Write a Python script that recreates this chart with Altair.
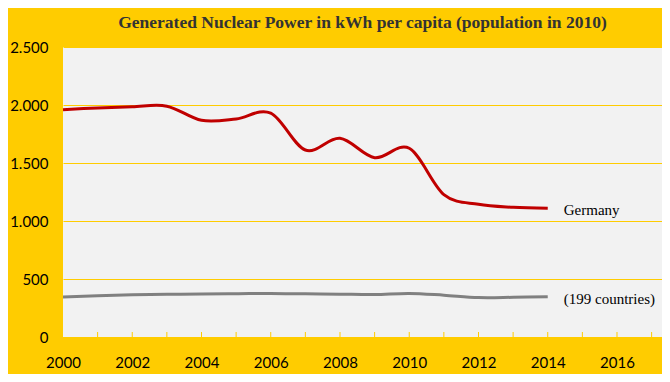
import altair as alt
import pandas as pd

years = list(range(2000, 2015))
germany = [1960, 1975, 1985, 1990, 1868, 1880, 1930, 1612, 1713, 1546, 1627, 1228, 1144, 1118, 1109]
world = [345, 356, 364, 368, 371, 373, 376, 372, 369, 366, 376, 360, 340, 342, 347]
series_labels = ["Germany", "(199 countries)"]
x_tick_labels = [2000, 2002, 2004, 2006, 2008, 2010, 2012, 2014, 2016]
y_tick_labels = [0, 500, 1000, 1500, 2000, 2500]
minor_ticks = list(range(2001, 2018))
title = "Generated Nuclear Power in kWh  per capita (population in 2010)"

YELLOW = "#FFCC00"
W, H = 599, 290

df = pd.DataFrame({
    "year": years * 2,
    "value": germany + world,
    "series": [series_labels[0]] * len(years) + [series_labels[1]] * len(years),
})
lab = pd.DataFrame({
    "year": [years[-1], years[-1]],
    "value": [germany[-1], world[-1]],
    "series": series_labels,
})
ticks = pd.DataFrame({"year": minor_ticks})

xscale = alt.Scale(domain=[2000, 2017.3], nice=False, zero=False)
yscale = alt.Scale(domain=[0, 2500], nice=False)

xaxis = alt.Axis(values=x_tick_labels, format="d", title=None, grid=False, ticks=False,
                 domain=False, labelFont="Lato", labelFontSize=15, labelColor="#000000",
                 labelPadding=18, labelFlush=False)
yaxis = alt.Axis(values=y_tick_labels, title=None, grid=True, gridColor=YELLOW, gridWidth=1,
                 ticks=False, domain=False, labelFont="Lato", labelFontSize=15,
                 labelColor="#000000", labelPadding=15,
                 labelExpr="replace(format(datum.value, ','), ',', '.')")

lines = alt.Chart(df).mark_line(interpolate="cardinal", strokeWidth=3).encode(
    x=alt.X("year:Q", scale=xscale, axis=xaxis),
    y=alt.Y("value:Q", scale=yscale, axis=yaxis),
    color=alt.Color("series:N", scale=alt.Scale(domain=series_labels, range=["#C00000", "#808080"]), legend=None),
)

tick_rules = alt.Chart(ticks).mark_rule(color=YELLOW, strokeWidth=1).encode(
    x=alt.X("year:Q", scale=xscale),
    y=alt.value(H - 5),
    y2=alt.value(H),
)

labels = alt.Chart(lab).mark_text(align="left", baseline="middle", dx=16, dy=2,
                                  font="Liberation Serif", fontSize=15, color="#000000").encode(
    x=alt.X("year:Q", scale=xscale),
    y=alt.Y("value:Q", scale=yscale),
    text="series:N",
)

chart = alt.layer(tick_rules, lines, labels).properties(
    width=W, height=H,
    background=YELLOW,
    padding={"left": 55, "top": 39, "right": 0, "bottom": 37},
    autosize=alt.AutoSizeParams(type="none"),
    title=alt.TitleParams(title, font="Liberation Serif", fontSize=17.5, fontWeight="bold",
                          color="#333333", anchor="middle", offset=9),
).configure_view(fill="#F2F2F2", stroke=None)

chart.save("out.html", embed_options={"renderer": "svg", "actions": False})
